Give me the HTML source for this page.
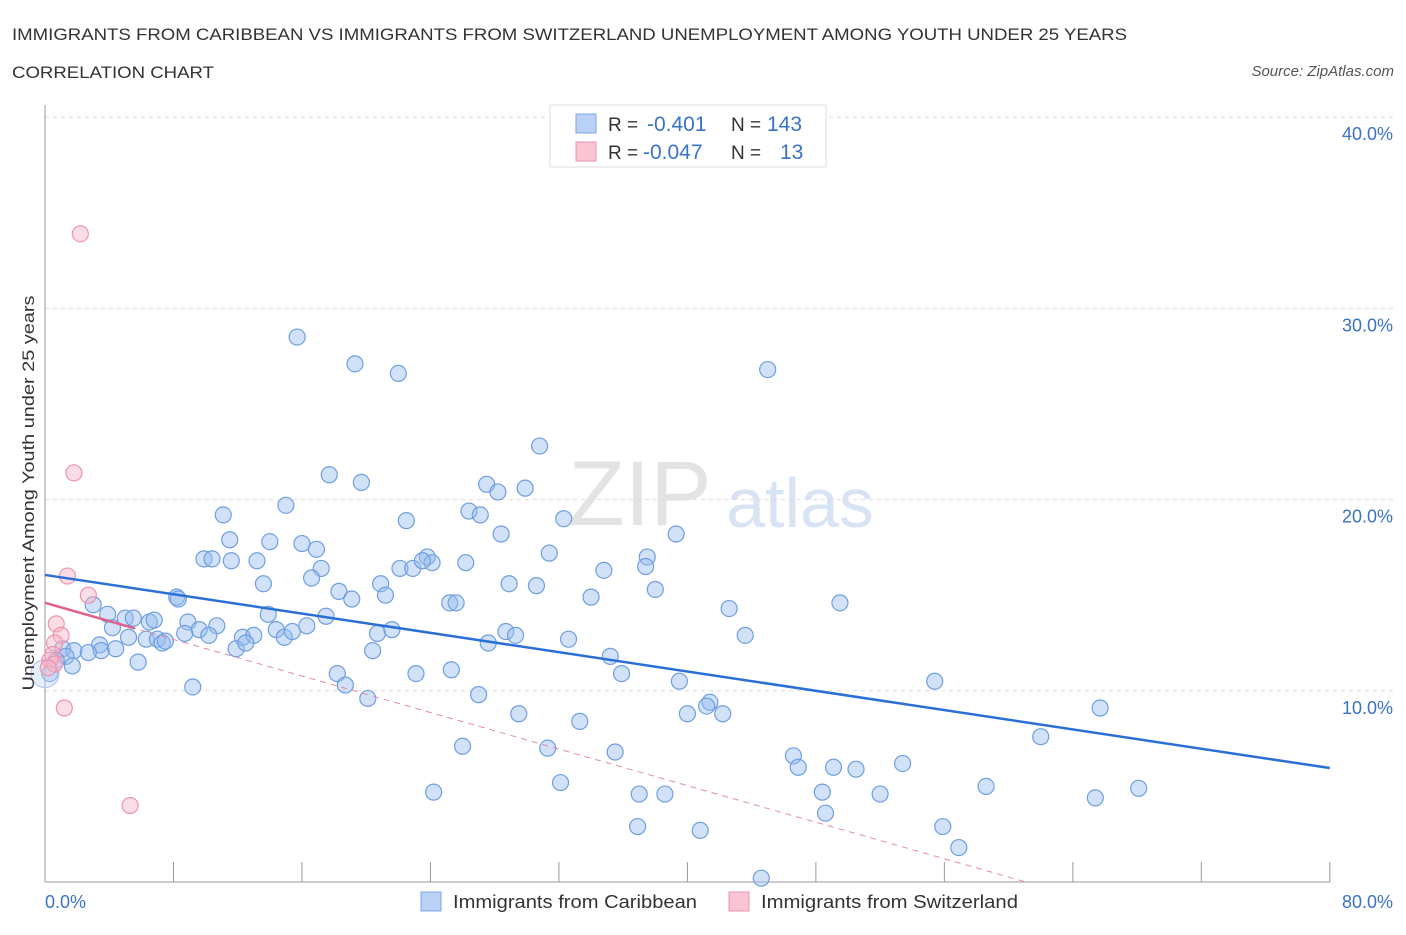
<!DOCTYPE html>
<html><head><meta charset="utf-8"><style>
body{margin:0;background:#fff;font-family:"Liberation Sans",sans-serif;}
svg text{font-family:"Liberation Sans",sans-serif;}
</style></head><body>
<svg id="chart" width="1406" height="930">
<text x="12" y="40" font-size="17" fill="#333" textLength="1115" lengthAdjust="spacingAndGlyphs">IMMIGRANTS FROM CARIBBEAN VS IMMIGRANTS FROM SWITZERLAND UNEMPLOYMENT AMONG YOUTH UNDER 25 YEARS</text>
<text x="12" y="78" font-size="17" fill="#333" textLength="202" lengthAdjust="spacingAndGlyphs">CORRELATION CHART</text>
<text x="1394" y="76" font-size="15" fill="#555" font-style="italic" text-anchor="end">Source: ZipAtlas.com</text>
<text x="640" y="525" font-size="92" fill="#e3e3e3" text-anchor="middle" font-family="Liberation Serif">ZIP</text>
<text x="800" y="527" font-size="70" fill="#d8e4f4" text-anchor="middle">atlas</text>
<g id="grid"></g><g id="axes"></g><g id="blue"></g><g id="pink"></g><g id="trends"></g>
<text transform="translate(34,493) rotate(-90)" font-size="17" fill="#333" text-anchor="middle" textLength="395" lengthAdjust="spacingAndGlyphs">Unemployment Among Youth under 25 years</text>
<text x="45" y="908" font-size="18" fill="#3a72c8">0.0%</text>
<text x="1393" y="908" font-size="18" fill="#3a72c8" text-anchor="end">80.0%</text>
<g>
<rect x="550" y="105" width="276" height="62" fill="#fff" stroke="#ddd"/>
<rect x="576" y="114" width="20" height="19" fill="#b8d1f5" stroke="#7da6e3"/>
<rect x="576" y="142" width="20" height="19" fill="#f9c4d3" stroke="#ec93ad"/>
<text x="608" y="131" font-size="19" fill="#333">R = </text>
<text x="647" y="131" font-size="21" fill="#3a72c8">-0.401</text>
<text x="731" y="131" font-size="19" fill="#333">N =</text>
<text x="767" y="131" font-size="21" fill="#3a72c8">143</text>
<text x="608" y="159" font-size="19" fill="#333">R = </text>
<text x="643" y="159" font-size="21" fill="#3a72c8">-0.047</text>
<text x="731" y="159" font-size="19" fill="#333">N =</text>
<text x="780" y="159" font-size="21" fill="#3a72c8">13</text>
</g>
<g>
<rect x="421" y="892" width="20" height="19" fill="#b8d1f5" stroke="#7da6e3"/>
<text x="453" y="908" font-size="18" fill="#333" textLength="244" lengthAdjust="spacingAndGlyphs">Immigrants from Caribbean</text>
<rect x="729" y="892" width="20" height="19" fill="#f9c4d3" stroke="#ec93ad"/>
<text x="761" y="908" font-size="18" fill="#333" textLength="257" lengthAdjust="spacingAndGlyphs">Immigrants from Switzerland</text>
</g>
</svg>
<script>
const yTicks=[10,20,30,40];
const yTickLabels=["10.0%","20.0%","30.0%","40.0%"];
const xTicks=[0,8,16,24,32,40,48,56,64,72,80];
const blueX=[15.7,19.3,22,45,30.8,17.7,19.7,27.5,28.2,29.9,11.1,15,26.4,27.1,22.5,32.3,39.3,28.4,11.5,14,16,16.9,31.4,9.9,10.4,11.6,13.2,22.1,22.9,23.8,24.1,23.5,26.2,34.8,37.5,37.4,17.2,13.6,16.6,20.9,28.9,30.6,38,18.3,19.1,21.2,34,49.5,42.6,25.2,25.6,8.2,8.3,3,13.9,17.5,8.9,10.7,3.9,5,5.5,6.5,6.8,4.2,9.6,8.7,10.2,12.3,13,14.4,14.9,15.4,16.3,20.7,21.6,28.7,29.3,32.6,27.6,43.6,5.2,6.3,7,7.3,7.5,11.9,12.5,3.4,3.5,4.4,1.1,1.8,2.7,1.3,0.7,1.7,5.8,35.2,25.3,20.4,18.2,23.1,35.9,39.5,55.4,18.7,9.2,27,20.1,29.5,33.3,41.4,41.2,42.2,40,65.7,62,26,31.3,35.5,46.6,46.9,49.1,50.5,53.4,48.4,52,58.6,68.1,65.4,24.2,32.1,37,38.6,48.6,36.9,40.8,55.9,56.9,44.6,0.3,0];
const blueY=[28.5,27.1,26.6,26.8,22.8,21.3,20.9,20.8,20.4,20.6,19.2,19.7,19.4,19.2,18.9,19,18.2,18.2,17.9,17.8,17.7,17.4,17.2,16.9,16.9,16.8,16.8,16.4,16.4,17,16.7,16.8,16.7,16.3,17,16.5,16.4,15.6,15.9,15.6,15.6,15.5,15.3,15.2,14.8,15,14.9,14.6,14.3,14.6,14.6,14.9,14.8,14.5,14,13.9,13.6,13.4,14,13.8,13.8,13.6,13.7,13.3,13.2,13,12.9,12.8,12.9,13.2,12.8,13.1,13.4,13,13.2,13.1,12.9,12.7,12.5,12.9,12.8,12.7,12.7,12.5,12.6,12.2,12.5,12.4,12.1,12.2,12.2,12.1,12,11.8,11.6,11.3,11.5,11.8,11.1,12.1,10.9,10.9,10.9,10.5,10.5,10.3,10.2,9.8,9.6,8.8,8.4,9.4,9.2,8.8,8.8,9.1,7.6,7.1,7.0,6.8,6.6,6.0,6.0,5.9,6.2,4.7,4.6,5,4.9,4.4,4.7,5.2,4.6,4.6,3.6,2.9,2.7,2.9,1.8,0.2,10.9,10.9];
const pinkX=[2.2,1.8,1.4,2.7,0.7,1,0.6,0.5,0.3,0.6,0.2,1.2,5.3];
const pinkY=[33.9,21.4,16,15,13.5,12.9,12.5,11.9,11.6,11.4,11.2,9.1,4];
const blueTrend=[16.06,5.96];
const pinkTrend=[14.6,-0.239];
const X=v=>45+v*16.06, Y=v=>882-v*19.12;
const NS="http://www.w3.org/2000/svg";
function mk(parent,tag,attrs){const e=document.createElementNS(NS,tag);for(const k in attrs)e.setAttribute(k,attrs[k]);document.getElementById(parent).appendChild(e);return e;}
yTicks.forEach((t,i)=>{
 const l=mk('grid','line',{x1:45,x2:1393,y1:Y(t),y2:Y(t),stroke:'#ddd','stroke-dasharray':'4,4'});
 
 
 const tx=mk('grid','text',{x:1393,y:Y(t)+23,'font-size':18,fill:'#3a72c8','text-anchor':'end'});
 tx.textContent=yTickLabels[i];
 
 
});
const ax=mk('axes','line',{x1:45,x2:1330,y1:882,y2:882,stroke:'#999'});


const ay=mk('axes','line',{x1:45,x2:45,y1:105,y2:882,stroke:'#999'});


xTicks.forEach(t=>{
 const l=mk('axes','line',{x1:X(t),x2:X(t),y1:862,y2:882,stroke:'#999'});
 
 
});
blueX.forEach((v,i)=>{
 const big=i==blueX.length-1;
 const c=mk('blue','circle',{cx:X(v),cy:Y(blueY[i]),r:big?14:8,fill:big?'rgba(190,212,245,0.4)':'rgba(150,188,240,0.45)',stroke:big?'#b0c8ee':'#6f9fe0','stroke-width':1.2});
 
 
});
pinkX.forEach((v,i)=>{
 const c=mk('pink','circle',{cx:X(v),cy:Y(pinkY[i]),r:8,fill:'rgba(247,180,200,0.45)',stroke:'#ec93ad','stroke-width':1.2});
 
 
});
const bt=mk('trends','line',{x1:X(0),y1:Y(blueTrend[0]),x2:X(80),y2:Y(blueTrend[1]),stroke:'#2a6fd6','stroke-width':2.5});


const xe=-pinkTrend[0]/pinkTrend[1];
const pd=mk('trends','line',{x1:X(0),y1:Y(pinkTrend[0]),x2:X(xe),y2:Y(0),stroke:'#e58aa5','stroke-width':1,'stroke-dasharray':'6,5'});


const ps=mk('trends','line',{x1:X(0),y1:Y(pinkTrend[0]),x2:X(5.6),y2:Y(pinkTrend[0]+pinkTrend[1]*5.6),stroke:'#e0608a','stroke-width':2.5});


</script>
</body></html>
